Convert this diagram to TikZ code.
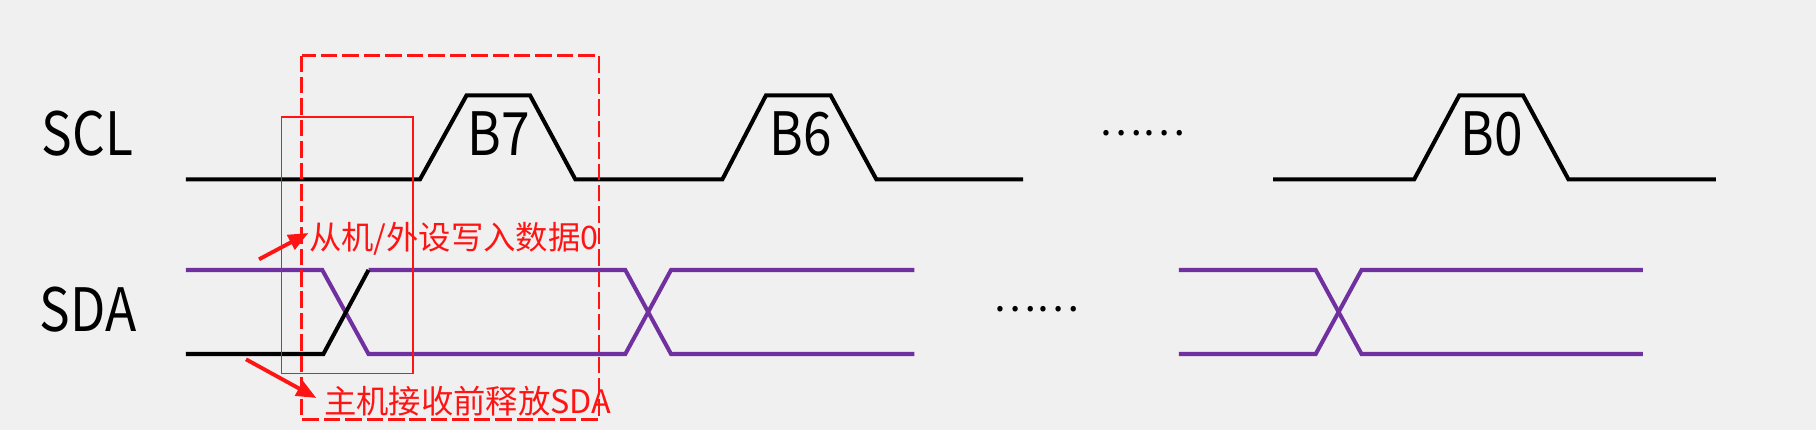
\documentclass[tikz,border=0pt]{standalone}
\usepackage{fontspec}
\setmainfont{Noto Sans CJK SC}
\usetikzlibrary{arrows.meta}
\definecolor{fundo}{RGB}{240,240,240}
\definecolor{roxo}{RGB}{112,48,160}
\definecolor{vermelho}{RGB}{255,20,20}
\begin{document}
\begin{tikzpicture}[
  x = 0.01cm, y = -0.01cm,
  sinal/.style = {line width = 1.15pt},
  dados/.style = {sinal, roxo},
  rotulo/.style = {font = \fontsize{17}{18}\selectfont, inner sep = 0pt, xscale = 0.86, transform shape},
  nota/.style = {font = \fontsize{9.2}{10}\selectfont, text = vermelho, inner sep = 0pt},
  pontos/.style = {font = \fontsize{11.5}{12}\selectfont, inner sep = 0pt},
  seta/.style = {vermelho, line width = 1.1pt, -{Triangle[length=0.2cm, width=0.16cm]}}
]
\def\lo{179.3}
\def\hi{95.3}
\def\up{270}
\def\dn{354}

\fill[fundo] (0,0) rectangle (1816,430);
\useasboundingbox (0,0) rectangle (1816,430);

\node[rotulo] (scl) at (87.6,134) {SCL};
\node[rotulo] (sda) at (88,310) {SDA};

% clock
\draw[sinal] (185.8,\lo) -- (420,\lo) -- (466.6,\hi) -- (530,\hi) -- (575.3,\lo)
  -- (722.4,\lo) -- (766,\hi) -- (830.6,\hi) -- (876.3,\lo) -- (1023,\lo);
\draw[sinal] (1273.2,\lo) -- (1414.2,\lo) -- (1459.3,\hi) -- (1523,\hi) -- (1568.4,\lo)
  -- (1715.9,\lo);
\node[rotulo] (b7) at (499,134) {B7};
\node[rotulo] (b6) at (801,134) {B6};
\node[rotulo] (b0) at (1492,134) {B0};
\node[pontos] (dotsscl) at (1142.5,133.3) {……};

% dados
\draw[dados] (185.8,\up) -- (322.3,\up) -- (368.5,\dn) -- (625.3,\dn) -- (671,\up) -- (914.3,\up);
\draw[dados] (368.5,\up) -- (625.3,\up) -- (671,\dn) -- (914.3,\dn);
\draw[sinal] (185.8,\dn) -- (323.4,\dn) -- (368.5,\up);
\draw[dados] (1178.9,\up) -- (1315.7,\up) -- (1361.5,\dn) -- (1642.8,\dn);
\draw[dados] (1178.9,\dn) -- (1315.7,\dn) -- (1361.5,\up) -- (1642.8,\up);
\node[pontos] (dotssda) at (1036,309.3) {……};

% destaque
\draw[vermelho, line width = 0.45pt] (281.7,117) rectangle (413,373.3);
\draw[vermelho, line width = 0.7pt, dash pattern = on 4.7pt off 1.4pt] (301.5,55.5) rectangle (599,419.5);

\node[nota, anchor = west] (escreve) at (308.4,239) {从机/外设写入数据0};
\node[nota, anchor = west] (libera) at (323.4,401) {主机接收前释放SDA};
\coordinate (caudaA) at (259,259.3);
\coordinate (caudaB) at (246,359.3);
\draw[seta] (caudaA) -- ([yshift=0.06cm]escreve.west);
\draw[seta] (caudaB) -- ([xshift=-0.07cm, yshift=0.03cm]libera.west);
\end{tikzpicture}
\end{document}
